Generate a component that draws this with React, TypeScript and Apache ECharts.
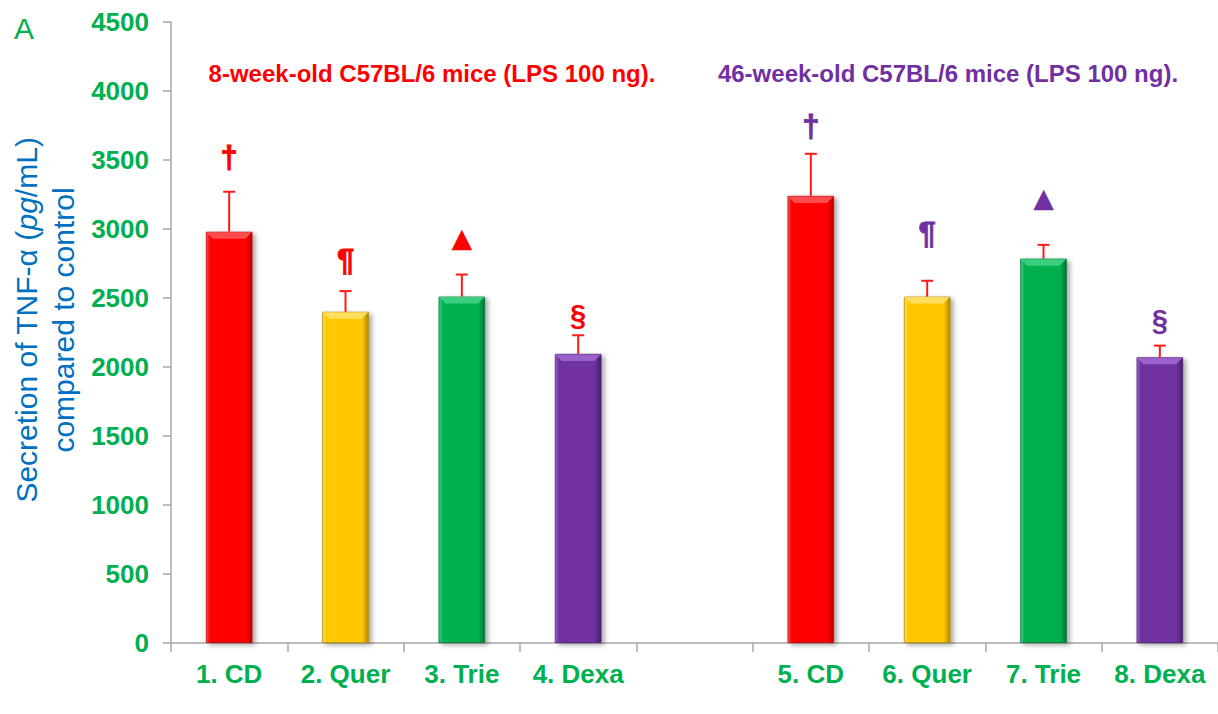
import React, { useEffect, useRef } from "react";
import * as echarts from "echarts";

const categories = ["1. CD", "2. Quer", "3. Trie", "4. Dexa", "", "5. CD", "6. Quer", "7. Trie", "8. Dexa"];
const values: (number | null)[] = [2980, 2400, 2510, 2095, null, 3240, 2510, 2785, 2070];
const errors: (number | null)[] = [290, 150, 160, 135, null, 305, 115, 100, 85];
const markSymbols = ["†", "¶", "▲", "§", "", "†", "¶", "▲", "§"];
const markValues: (number | null)[] = [3520, 2775, 2935, 2375, null, 3745, 2965, 3230, 2340];
const groupTitles = ["8-week-old C57BL/6 mice (LPS 100 ng).", "46-week-old C57BL/6 mice (LPS 100 ng)."];
const groupColors = ["#ff0000", "#7030a0"];
const yMin = 0;
const yMax = 4500;
const yInterval = 500;

const barBase = ["#ff0000", "#ffc800", "#00b050", "#7030a0"];
const barLight = ["#ff5a5a", "#ffe070", "#45d488", "#a06ad0"];
const barDark = ["#b80000", "#b08800", "#007535", "#4a1e6e"];

const FONT = "'Liberation Sans', Arial, 'DejaVu Sans', sans-serif";
const GREEN = "#00b050";
const BLUE = "#0070c0";

function colorIdx(i: number) {
  return i < 4 ? i : i - 5;
}

export default function App() {
  const ref = useRef<HTMLDivElement>(null);
  useEffect(() => {
    if (!ref.current) return;
    const chart = echarts.init(ref.current, undefined, { renderer: "svg" });
    const barFrac = 0.4;

    const barData = values.map((v, i) => {
      if (v == null) return "-";
      const c = colorIdx(i);
      return {
        value: v,
        itemStyle: {
          color: new echarts.graphic.LinearGradient(0, 0, 1, 0, [
            { offset: 0, color: barLight[c] },
            { offset: 0.08, color: barBase[c] },
            { offset: 0.86, color: barBase[c] },
            { offset: 1, color: barDark[c] },
          ]),
          borderColor: barDark[c],
          borderWidth: 0.8,
          shadowBlur: 5,
          shadowOffsetX: 3,
          shadowOffsetY: 2,
          shadowColor: "rgba(0,0,0,0.35)",
        },
      };
    });

    const errData: any[] = [];
    values.forEach((v, i) => {
      if (v != null && errors[i] != null) errData.push([i, v, errors[i], colorIdx(i)]);
    });
    const markData: any[] = [];
    markValues.forEach((m, i) => {
      if (m != null) markData.push([i, m, i < 4 ? 0 : 1, markSymbols[i]]);
    });

    chart.setOption({
      animation: false,
      grid: { left: 171, right: 0, top: 22, bottom: 71, containLabel: false },
      xAxis: {
        type: "category",
        data: categories,
        boundaryGap: true,
        axisLine: { show: true, lineStyle: { color: "#a6a6a6", width: 1.5 } },
        axisTick: { show: true, length: 9, interval: 0, lineStyle: { color: "#a6a6a6", width: 1.5 } },
        axisLabel: {
          interval: 0,
          color: GREEN,
          fontSize: 26,
          fontWeight: "bold",
          fontFamily: FONT,
          margin: 18,
        },
        splitLine: { show: false },
      },
      yAxis: {
        type: "value",
        min: yMin,
        max: yMax,
        interval: yInterval,
        axisLine: { show: true, lineStyle: { color: "#a6a6a6", width: 1.5 } },
        axisTick: { show: true, length: 8, lineStyle: { color: "#a6a6a6", width: 1.5 } },
        axisLabel: {
          color: GREEN,
          fontSize: 26,
          fontWeight: "bold",
          fontFamily: FONT,
          margin: 22,
          formatter: (v: number) => String(v),
        },
        splitLine: { show: false },
      },
      series: [
        {
          type: "bar",
          data: barData,
          barWidth: "40%",
          z: 2,
        },
        {
          type: "custom",
          data: errData,
          z: 3,
          renderItem: (params: any, api: any) => {
            const idx = api.value(0);
            const v = api.value(1);
            const e = api.value(2);
            const c = api.value(3);
            const top = api.coord([idx, v]);
            const et = api.coord([idx, v + e]);
            const bw = api.size([1, 0])[0] * barFrac;
            const x0 = top[0] - bw / 2;
            const x1 = top[0] + bw / 2;
            const d = 7;
            return {
              type: "group",
              children: [
                {
                  type: "polygon",
                  shape: {
                    points: [
                      [x0 + 0.5, top[1] + 0.5],
                      [x1 - 0.5, top[1] + 0.5],
                      [x1 - d, top[1] + d],
                      [x0 + d, top[1] + d],
                    ],
                  },
                  style: { fill: barLight[c], opacity: 0.85 },
                },
                {
                  type: "line",
                  shape: { x1: top[0], y1: top[1], x2: et[0], y2: et[1] },
                  style: { stroke: "#ff1a1a", lineWidth: 2 },
                },
                {
                  type: "line",
                  shape: { x1: et[0] - 6, y1: et[1], x2: et[0] + 6, y2: et[1] },
                  style: { stroke: "#ff1a1a", lineWidth: 2 },
                },
              ],
            };
          },
        },
        {
          type: "custom",
          data: markData,
          z: 4,
          renderItem: (params: any, api: any) => {
            const idx = api.value(0);
            const m = api.value(1);
            const g = api.value(2);
            const sym = markData[params.dataIndex][3];
            const p = api.coord([idx, m]);
            const isTri = sym === "▲";
            const isSec = sym === "§";
            return {
              type: "text",
              x: p[0],
              y: p[1],
              style: {
                text: sym,
                fill: groupColors[g],
                fontSize: isTri ? 27 : isSec ? 29 : 31,
                fontWeight: "bold",
                fontFamily: isTri ? "'DejaVu Sans', sans-serif" : FONT,
                align: "center",
                verticalAlign: "middle",
                stroke: isTri || isSec ? undefined : groupColors[g],
                lineWidth: isTri || isSec ? 0 : 0.8,
              },
            };
          },
        },
      ],
      graphic: [
        {
          type: "text",
          left: 14,
          top: 13,
          style: { text: "A", fill: GREEN, fontSize: 30, fontFamily: FONT },
        },
        {
          type: "text",
          x: 432,
          y: 73,
          style: {
            text: groupTitles[0],
            fill: groupColors[0],
            fontSize: 24,
            fontWeight: "bold",
            fontFamily: FONT,
            align: "center",
            verticalAlign: "middle",
          },
        },
        {
          type: "text",
          x: 948,
          y: 73,
          style: {
            text: groupTitles[1],
            fill: groupColors[1],
            fontSize: 24,
            fontWeight: "bold",
            fontFamily: FONT,
            align: "center",
            verticalAlign: "middle",
          },
        },
        {
          type: "text",
          x: 26,
          y: 320,
          rotation: Math.PI / 2,
          style: {
            text: "Secretion of TNF-α ({i|pg}/mL)",
            fill: BLUE,
            fontSize: 30,
            fontFamily: FONT,
            align: "center",
            verticalAlign: "middle",
            rich: {
              i: { fontStyle: "italic", fontSize: 30, fontFamily: FONT, fill: BLUE },
            },
          },
        },
        {
          type: "text",
          x: 63,
          y: 320,
          rotation: Math.PI / 2,
          style: {
            text: "compared to control",
            fill: BLUE,
            fontSize: 30,
            fontFamily: FONT,
            align: "center",
            verticalAlign: "middle",
          },
        },
      ],
    });
    return () => chart.dispose();
  }, []);

  return (
    <div
      ref={ref}
      style={{ position: "fixed", left: 0, top: 0, width: 1218, height: 714, background: "#fff" }}
    />
  );
}
